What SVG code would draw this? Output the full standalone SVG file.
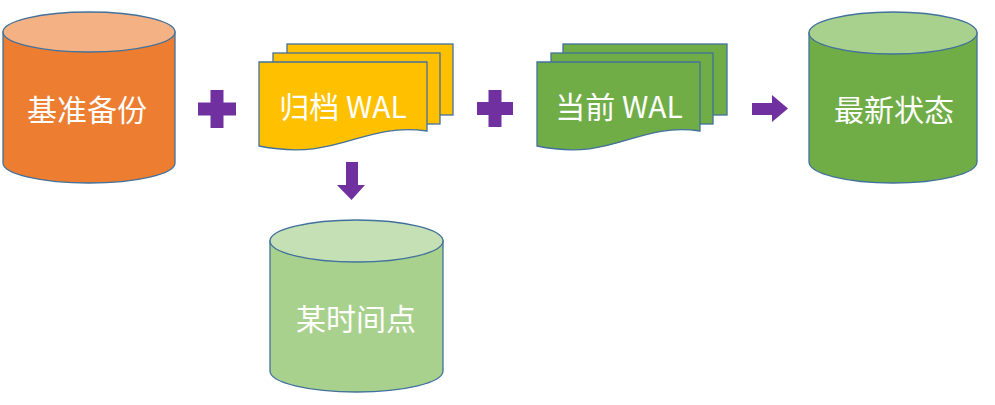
<svg xmlns="http://www.w3.org/2000/svg" width="995" height="405" viewBox="0 0 995 405">
<style>
.stk{stroke:#41719C;stroke-width:1.3}
.lbl{font-family:"Noto Sans CJK SC","Microsoft YaHei",sans-serif;font-size:30px;fill:#FFFFFF;text-anchor:middle}
.sym{fill:#7030A0}
</style>
<rect width="995" height="405" fill="#FFFFFF"/>
<g id="base-backup">
<path class="stk" fill="#ED7D31" d="M3,32 V163 A86,20 0 0 0 175,163 V32 Z"/>
<ellipse class="stk" cx="89" cy="32" rx="86" ry="20" fill="#F4B183"/>
<text class="lbl" x="87" y="121">基准备份</text>
</g>
<g id="archive-wal">
<rect class="stk" x="287" y="44" width="166" height="71" fill="#FFC000"/>
<rect class="stk" x="273" y="53" width="167" height="71" fill="#FFC000"/>
<path class="stk" fill="#FFC000" d="M259,62 H427 V131 C360,122 340,162 259,146 Z"/>
<text class="lbl" x="343" y="118">归档 WAL</text>
</g>
<g id="current-wal">
<rect class="stk" x="563" y="44" width="164" height="71" fill="#70AD47"/>
<rect class="stk" x="551" y="53" width="162" height="71" fill="#70AD47"/>
<path class="stk" fill="#70AD47" d="M537,62 H700 V131 C635,122 615,162 537,146 Z"/>
<text class="lbl" x="619" y="118">当前 WAL</text>
</g>
<g id="latest-state">
<path class="stk" fill="#70AD47" d="M809,33 V162 A84,21 0 0 0 977,162 V33 Z"/>
<ellipse class="stk" cx="893" cy="33" rx="84" ry="21" fill="#A9D18E"/>
<text class="lbl" x="894" y="121">最新状态</text>
</g>
<g id="point-in-time">
<path class="stk" fill="#A9D18E" d="M270,241 V371 A86.5,21 0 0 0 443,371 V241 Z"/>
<ellipse class="stk" cx="356.5" cy="241" rx="86.5" ry="21" fill="#C5E0B4"/>
<text class="lbl" x="356" y="330">某时间点</text>
</g>
<g id="connectors">
<path class="sym" d="M210.5,90 H223.5 V102.5 H236 V115.5 H223.5 V128 H210.5 V115.5 H198 V102.5 H210.5 Z"/>
<path class="sym" d="M488.5,90 H501.5 V102 H513 V115 H501.5 V127 H488.5 V115 H477 V102 H488.5 Z"/>
<path class="sym" d="M346,162 H358 V185 H365 L351.5,200 L337,185 H346 Z"/>
<path class="sym" d="M752,103 H772 V95 L788,108.5 L772,122 V115 H752 Z"/>
</g>
</svg>
